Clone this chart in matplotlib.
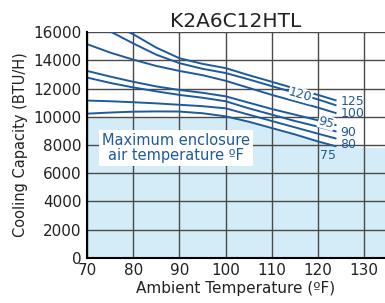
import numpy as np
import matplotlib
matplotlib.use('Agg')
import matplotlib.pyplot as plt

# Cooling capacity curves (BTU/H) vs ambient temperature (F)
temp_125 = [79, 80, 85, 90, 95, 100, 105, 110, 115, 120, 124]
cap_125 = [16000, 15850, 14900, 14150, 13750, 13450, 12950, 12480, 12000, 11550, 11150]

temp_120 = [75, 80, 85, 90, 95, 100, 105, 110, 115, 120, 124]
cap_120 = [16050, 15200, 14400, 13800, 13400, 13100, 12650, 12170, 11700, 11230, 10800]

temp_std = [70, 75, 80, 85, 90, 95, 100, 105, 110, 115, 120, 124]
cap_100 = [15150, 14550, 14050, 13600, 13250, 12950, 12550, 12050, 11550, 11100, 10650, 10250]
cap_95 = [13250, 12850, 12480, 12150, 11900, 11700, 11450, 11000, 10550, 10150, 9750, 9400]
cap_90 = [12780, 12400, 12080, 11800, 11550, 11350, 11100, 10600, 10150, 9700, 9300, 8950]
cap_80 = [11150, 11100, 11030, 10950, 10850, 10750, 10600, 10150, 9700, 9250, 8800, 8450]
cap_75 = [10220, 10300, 10360, 10380, 10370, 10250, 10030, 9650, 9200, 8750, 8250, 7900]

# shaded "safe" region: under the 75F curve, capped at 10000, flat past the curve end
fill_temp = temp_std + [135]
fill_cap = cap_75 + [7800]
fill_cap_max = 10000

blue = '#1d5a9e'
fill_blue = '#d4ecf8'

fig = plt.figure(figsize=(3.85, 3.03), dpi=100)
ax = fig.add_axes([0.226, 0.149, 0.774, 0.745])

ax.fill_between(fill_temp, 0, np.minimum(fill_cap, fill_cap_max),
                color=fill_blue, lw=0, zorder=0)

for t, c in [(temp_125, cap_125), (temp_120, cap_120), (temp_std, cap_100),
             (temp_std, cap_95), (temp_std, cap_90), (temp_std, cap_80),
             (temp_std, cap_75)]:
    ax.plot(t, c, color=blue, lw=1.4, zorder=3, solid_capstyle='butt')

ax.set_xlim(70, 134.5)
ax.set_ylim(0, 16000)
ax.set_xticks(range(70, 131, 10))
ax.set_yticks(range(0, 16001, 2000))
ax.grid(True, color='#4a4a4a', lw=1.0, zorder=1)
ax.set_axisbelow(False)
for s in ['top', 'right']:
    ax.spines[s].set_visible(False)
for s in ['left', 'bottom']:
    ax.spines[s].set_linewidth(1.5)
    ax.spines[s].set_zorder(4)
ax.tick_params(length=0, labelsize=11, colors='#222222', pad=4)

ax.set_title('K2A6C12HTL', fontsize=14.5, color='#222222', pad=4)
ax.set_xlabel('Ambient Temperature (ºF)', fontsize=11, color='#222222', labelpad=2)
ax.set_ylabel('Cooling Capacity (BTU/H)', fontsize=10.5, color='#222222', labelpad=4)

# curve labels
lab = dict(color=blue, fontsize=9, zorder=5)
ax.text(124.8, 11060, '125', va='center', ha='left', **lab)
ax.text(124.8, 10240, '100', va='center', ha='left', **lab)
ax.text(124.8, 8890, '90', va='center', ha='left', **lab)
ax.text(124.8, 8060, '80', va='center', ha='left', **lab)
ax.text(120.4, 7280, '75', va='center', ha='left', **lab)
ax.text(116.2, 11560, '120', va='center', ha='center', rotation=-16,
        bbox=dict(facecolor='white', edgecolor='none', pad=0.3), **lab)
ax.text(121.8, 9600, '95', va='center', ha='center', rotation=-16,
        bbox=dict(facecolor='white', edgecolor='none', pad=0.3), **lab)

ax.text(89.3, 7780, 'Maximum enclosure\nair temperature ºF', color=blue,
        fontsize=10.5, ha='center', va='center', linespacing=1.0, zorder=5,
        bbox=dict(facecolor='white', edgecolor='none', pad=2))

fig.savefig('out.png', dpi=100)
